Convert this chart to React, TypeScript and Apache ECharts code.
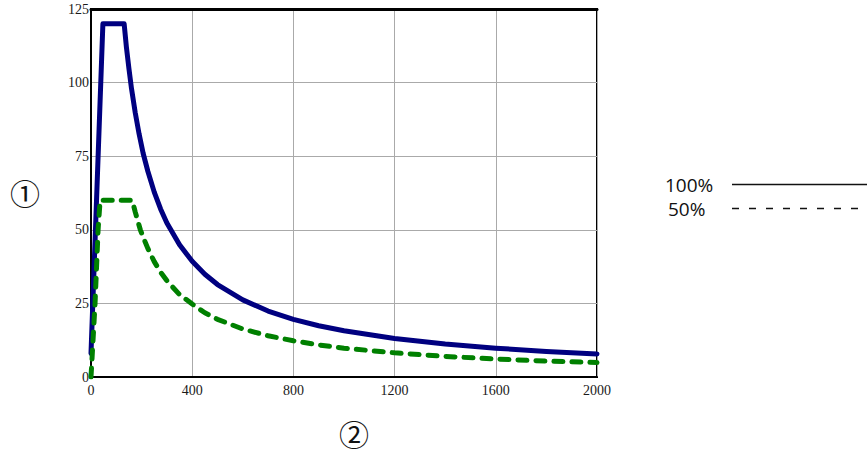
import React, { useEffect, useRef } from "react";
import * as echarts from "echarts";

// Speed axis (x) and value axis (y)
const xMin = 0;
const xMax = 2000;
const xStep = 400;
const yMin = 0;
const yMax = 125;
const yStep = 25;

// 100% curve (solid, navy)
const fullX = [0, 47, 131, 140, 150, 160, 175, 190, 206, 225, 250, 275, 300, 350, 400, 450, 500, 600, 700, 800, 900, 1000, 1200, 1400, 1600, 1800, 2000];
const fullY = [8, 120, 120, 112, 104.7, 98, 89.7, 82.6, 76, 69.8, 62.8, 57.1, 52.3, 44.9, 39.3, 34.9, 31.4, 26.2, 22.4, 19.6, 17.4, 15.7, 13.1, 11.2, 9.8, 8.7, 7.85];

// 50% curve (dashed, green)
const halfX = [0, 16, 28, 36, 163, 175, 195, 210, 225, 250, 275, 300, 350, 400, 450, 500, 600, 700, 800, 900, 1000, 1200, 1400, 1600, 1800, 2000];
const halfY = [0, 25, 50, 60, 60, 56, 50, 46.7, 43.6, 39.2, 35.6, 32.7, 28, 24.8, 21.8, 19.6, 16.3, 14, 12.3, 10.9, 9.8, 8.2, 7, 6.1, 5.4, 4.9];

const legendLabels = ["100%", "50%"];
const axisMarks = ["①", "②"];

export default function App() {
  const ref = useRef<HTMLDivElement>(null);

  useEffect(() => {
    if (!ref.current) return;
    const chart = echarts.init(ref.current, null, { renderer: "svg" });
    const serif = "'Liberation Serif', 'Times New Roman', serif";
    const sans = "'Open Sans', 'Noto Sans', sans-serif";

    const option: any = {
      animation: false,
      backgroundColor: "#ffffff",
      grid: {
        left: 91,
        right: 270,
        top: 9,
        bottom: 77,
        containLabel: false,
        outerBoundsMode: "none",
        show: true,
        borderColor: "#000",
        borderWidth: 2,
      },
      xAxis: [
        {
          type: "value",
          min: xMin,
          max: xMax,
          interval: xStep,
          axisLine: { show: true, onZero: false, lineStyle: { color: "#000", width: 2 } },
          axisTick: { show: false },
          axisLabel: {
            fontFamily: serif,
            fontSize: 14,
            color: "#1a1a1a",
            margin: 6,
            formatter: (v: number) => String(v),
          },
          splitLine: { show: true, lineStyle: { color: "#aaaaaa", width: 1 } },
        },
        {
          type: "value",
          position: "top",
          min: xMin,
          max: xMax,
          interval: xStep,
          axisLine: { show: true, onZero: false, lineStyle: { color: "#000", width: 3 } },
          axisTick: { show: false },
          axisLabel: { show: false },
          splitLine: { show: false },
        },
      ],
      yAxis: {
        type: "value",
        min: yMin,
        max: yMax,
        interval: yStep,
        axisLine: { show: true, onZero: false, lineStyle: { color: "#000", width: 2 } },
        axisTick: { show: false },
        axisLabel: {
          fontFamily: serif,
          fontSize: 14,
          color: "#1a1a1a",
          margin: 2,
          verticalAlign: "middle",
          padding: [5, 0, 0, 0],
          formatter: (v: number) => String(v),
        },
        splitLine: { show: true, lineStyle: { color: "#aaaaaa", width: 1 } },
      },
      series: [
        {
          type: "line",
          name: legendLabels[0],
          xAxisIndex: 0,
          data: fullX.map((x, i) => [x, fullY[i]]),
          symbol: "none",
          showSymbol: false,
          lineStyle: { color: "#000080", width: 5, join: "round", cap: "round" },
          itemStyle: { color: "#000080" },
          z: 3,
        },
        {
          type: "line",
          name: legendLabels[1],
          xAxisIndex: 0,
          data: halfX.map((x, i) => [x, halfY[i]]),
          symbol: "none",
          showSymbol: false,
          lineStyle: { color: "#008000", width: 5, type: [9, 9], cap: "round", join: "round" },
          itemStyle: { color: "#008000" },
          z: 4,
        },
      ],
      graphic: [
        {
          type: "text",
          x: 665,
          y: 185,
          style: {
            text: legendLabels[0],
            font: `19px ${sans}`,
            fill: "#111",
            align: "left",
            verticalAlign: "middle",
          },
        },
        {
          type: "text",
          x: 668,
          y: 209,
          style: {
            text: legendLabels[1],
            font: `19px ${sans}`,
            fill: "#111",
            align: "left",
            verticalAlign: "middle",
          },
        },
        {
          type: "line",
          shape: { x1: 732, y1: 184.5, x2: 867, y2: 184.5 },
          style: { stroke: "#111", lineWidth: 1.3 },
        },
        {
          type: "line",
          shape: { x1: 732, y1: 208.5, x2: 867, y2: 208.5 },
          style: { stroke: "#111", lineWidth: 1.3, lineDash: [7, 10] },
        },
        {
          type: "text",
          x: 25,
          y: 192,
          style: {
            text: axisMarks[0],
            font: "30px 'Noto Sans CJK JP', 'DejaVu Sans', sans-serif",
            fill: "#111",
            align: "center",
            verticalAlign: "middle",
          },
        },
        {
          type: "text",
          x: 354,
          y: 433,
          style: {
            text: axisMarks[1],
            font: "30px 'Noto Sans CJK JP', 'DejaVu Sans', sans-serif",
            fill: "#111",
            align: "center",
            verticalAlign: "middle",
          },
        },
      ],
    };

    chart.setOption(option);
    return () => chart.dispose();
  }, []);

  return (
    <div
      ref={ref}
      style={{ position: "fixed", left: 0, top: 0, width: 867, height: 454 }}
    />
  );
}
